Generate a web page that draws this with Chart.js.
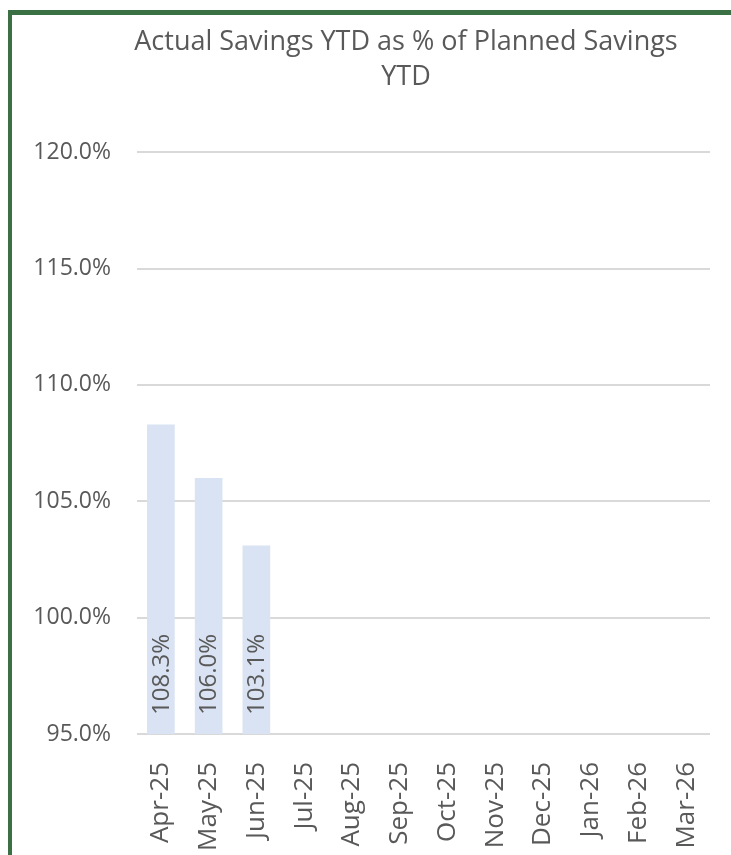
<!DOCTYPE html>
<html lang="en">
<head>
    <meta charset="UTF-8">
    <title>Actual Savings YTD</title>
    <script src="https://cdn.jsdelivr.net/npm/chart.js"></script>
    <style>
        html, body { margin: 0; padding: 0; background: #fff; }
        .frame {
            position: absolute; left: 8px; top: 10px;
            width: 719px; height: 840px;
            border-left: 4px solid #3A7044;
            border-top: 5px solid #3A7044;
        }
        #chart { display: block; }
    </style>
</head>
<body>
    <div class="frame">
        <canvas id="chart" width="719" height="840"></canvas>
    </div>
    <script>
        // chart data
        const months = ['Apr-25', 'May-25', 'Jun-25', 'Jul-25', 'Aug-25', 'Sep-25',
                        'Oct-25', 'Nov-25', 'Dec-25', 'Jan-26', 'Feb-26', 'Mar-26'];
        const savingsPct = [108.3, 106.0, 103.1, null, null, null, null, null, null, null, null, null];
        const titleLines = ['Actual Savings YTD as % of Planned Savings', 'YTD'];

        const grey = '#595959';
        const fontFamily = "'Open Sans', 'Noto Sans', sans-serif";

        // value labels written upward from the base of each bar
        const barLabels = {
            id: 'barLabels',
            afterDatasetsDraw(chart) {
                const ctx = chart.ctx;
                const base = chart.scales.y.bottom;
                chart.getDatasetMeta(0).data.forEach((bar, i) => {
                    const v = savingsPct[i];
                    if (v == null) return;
                    ctx.save();
                    ctx.translate(bar.x, base - 19);
                    ctx.rotate(-Math.PI / 2);
                    ctx.font = '24px ' + fontFamily;
                    ctx.fillStyle = grey;
                    ctx.textAlign = 'left';
                    ctx.textBaseline = 'middle';
                    ctx.fillText(v.toFixed(1) + '%', 0, 1);
                    ctx.restore();
                });
            }
        };

        // the title sits left of the plot centre, like the original
        const titleShift = {
            id: 'titleShift',
            afterLayout(chart) {
                const tb = chart.titleBlock;
                if (!tb) return;
                const half = (tb.right - tb.left) / 2;
                tb.left = 394 - half;
                tb.right = 394 + half;
            }
        };

        new Chart(document.getElementById('chart'), {
            type: 'bar',
            data: {
                labels: months,
                datasets: [{
                    data: savingsPct,
                    backgroundColor: '#DAE3F3',
                    barPercentage: 0.58,
                    categoryPercentage: 1.0
                }]
            },
            plugins: [barLabels, titleShift],
            options: {
                responsive: false,
                animation: false,
                layout: { padding: { left: 18, right: 21, top: 10, bottom: 0 } },
                plugins: {
                    legend: { display: false },
                    tooltip: { enabled: false },
                    title: {
                        display: true,
                        text: titleLines,
                        color: grey,
                        font: { family: fontFamily, size: 27, weight: 'normal', lineHeight: 1.3 },
                        padding: { top: 0, bottom: 57 }
                    }
                },
                scales: {
                    x: {
                        afterFit: s => {
                            s.height = 121;
                            s.paddingLeft = 0;
                            s.paddingRight = 0;
                        },
                        grid: { display: false },
                        border: { display: false },
                        ticks: {
                            color: grey,
                            font: { family: fontFamily, size: 26 },
                            minRotation: 90,
                            maxRotation: 90,
                            padding: 20
                        }
                    },
                    y: {
                        min: 95,
                        max: 120,
                        afterFit: s => { s.width = 107; },
                        grid: { color: '#D9D9D9', lineWidth: 2, drawTicks: false },
                        border: { display: false },
                        ticks: {
                            stepSize: 5,
                            color: grey,
                            font: { family: fontFamily, size: 23 },
                            padding: 26,
                            callback: v => v.toFixed(1) + '%'
                        }
                    }
                }
            }
        });
    </script>
</body>
</html>
